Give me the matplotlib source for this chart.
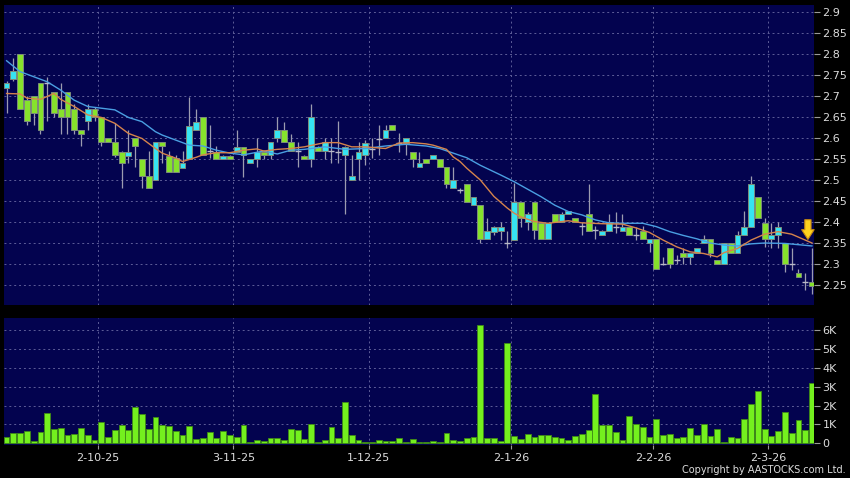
import numpy as np
import matplotlib
matplotlib.use("Agg")
import matplotlib.pyplot as plt

# daily candles (index 0 = first trading day shown)
opens = [2.72, 2.74, 2.80, 2.69, 2.70, 2.73, 2.73, 2.71, 2.67, 2.71,
         2.67, 2.62, 2.64, 2.67, 2.65, 2.60, 2.59, 2.567, 2.558, 2.60,
         2.55, 2.51, 2.50, 2.59, 2.557, 2.552, 2.529, 2.55, 2.62, 2.649,
         2.57, 2.567, 2.55, 2.557, 2.567, 2.579, 2.54, 2.55, 2.567, 2.56,
         2.599, 2.62, 2.59, 2.57, 2.557, 2.55, 2.579, 2.57, 2.57, 2.567,
         2.56, 2.50, 2.549, 2.56, 2.575, 2.597, 2.599, 2.631, 2.588, 2.589,
         2.567, 2.53, 2.549, 2.549, 2.549, 2.53, 2.48, 2.477, 2.49, 2.44,
         2.44, 2.359, 2.377, 2.379, 2.35, 2.357, 2.448, 2.399, 2.448, 2.398,
         2.359, 2.418, 2.40, 2.418, 2.409, 2.39, 2.418, 2.38, 2.369, 2.379,
         2.389, 2.379, 2.389, 2.37, 2.379, 2.349, 2.359, 2.30, 2.337, 2.31,
         2.327, 2.317, 2.327, 2.349, 2.359, 2.309, 2.299, 2.349, 2.327, 2.369,
         2.389, 2.459, 2.398, 2.359, 2.369, 2.349, 2.30, 2.278, 2.258, 2.258]
highs = [2.735, 2.79, 2.80, 2.70, 2.70, 2.73, 2.745, 2.71, 2.73, 2.71,
         2.68, 2.62, 2.68, 2.675, 2.65, 2.60, 2.635, 2.57, 2.62, 2.60,
         2.55, 2.57, 2.59, 2.59, 2.57, 2.56, 2.57, 2.698, 2.67, 2.649,
         2.63, 2.58, 2.56, 2.56, 2.62, 2.579, 2.55, 2.60, 2.57, 2.59,
         2.65, 2.637, 2.61, 2.59, 2.56, 2.68, 2.58, 2.60, 2.60, 2.64,
         2.58, 2.56, 2.59, 2.595, 2.60, 2.631, 2.631, 2.631, 2.611, 2.60,
         2.567, 2.567, 2.549, 2.56, 2.549, 2.53, 2.532, 2.48, 2.49, 2.46,
         2.44, 2.41, 2.39, 2.40, 2.379, 2.494, 2.448, 2.425, 2.448, 2.398,
         2.398, 2.418, 2.425, 2.427, 2.409, 2.40, 2.49, 2.39, 2.38, 2.42,
         2.424, 2.42, 2.389, 2.389, 2.39, 2.359, 2.359, 2.317, 2.337, 2.321,
         2.337, 2.327, 2.337, 2.369, 2.359, 2.309, 2.349, 2.349, 2.379, 2.427,
         2.51, 2.459, 2.41, 2.398, 2.40, 2.349, 2.337, 2.287, 2.278, 2.337]
lows = [2.66, 2.735, 2.67, 2.63, 2.63, 2.61, 2.64, 2.65, 2.61, 2.61,
        2.61, 2.58, 2.62, 2.64, 2.58, 2.59, 2.555, 2.48, 2.54, 2.53,
        2.48, 2.48, 2.50, 2.54, 2.52, 2.52, 2.529, 2.55, 2.62, 2.56,
        2.552, 2.55, 2.55, 2.55, 2.567, 2.508, 2.54, 2.53, 2.55, 2.55,
        2.59, 2.59, 2.57, 2.53, 2.55, 2.53, 2.57, 2.55, 2.54, 2.54,
        2.42, 2.50, 2.50, 2.535, 2.552, 2.56, 2.599, 2.62, 2.567, 2.56,
        2.532, 2.53, 2.54, 2.549, 2.53, 2.48, 2.48, 2.468, 2.448, 2.44,
        2.349, 2.359, 2.37, 2.357, 2.337, 2.357, 2.389, 2.38, 2.359, 2.359,
        2.359, 2.40, 2.40, 2.418, 2.40, 2.369, 2.379, 2.36, 2.369, 2.379,
        2.373, 2.379, 2.369, 2.357, 2.359, 2.329, 2.287, 2.298, 2.29, 2.299,
        2.299, 2.299, 2.327, 2.349, 2.317, 2.299, 2.299, 2.327, 2.327, 2.369,
        2.389, 2.409, 2.34, 2.337, 2.337, 2.28, 2.286, 2.268, 2.238, 2.229]
closes = [2.73, 2.76, 2.67, 2.64, 2.66, 2.62, 2.73, 2.66, 2.65, 2.65,
          2.62, 2.61, 2.67, 2.65, 2.59, 2.59, 2.56, 2.54, 2.567, 2.58,
          2.51, 2.48, 2.59, 2.58, 2.52, 2.52, 2.54, 2.629, 2.639, 2.56,
          2.57, 2.55, 2.557, 2.55, 2.579, 2.56, 2.549, 2.567, 2.56, 2.59,
          2.62, 2.59, 2.57, 2.57, 2.55, 2.649, 2.57, 2.59, 2.57, 2.567,
          2.579, 2.51, 2.567, 2.589, 2.575, 2.597, 2.62, 2.62, 2.588, 2.60,
          2.549, 2.54, 2.54, 2.56, 2.53, 2.49, 2.50, 2.477, 2.448, 2.459,
          2.359, 2.379, 2.389, 2.389, 2.35, 2.448, 2.409, 2.418, 2.38, 2.359,
          2.398, 2.40, 2.418, 2.427, 2.40, 2.39, 2.379, 2.38, 2.379, 2.399,
          2.389, 2.389, 2.369, 2.37, 2.359, 2.359, 2.287, 2.30, 2.299, 2.31,
          2.317, 2.327, 2.337, 2.359, 2.327, 2.299, 2.349, 2.327, 2.369, 2.389,
          2.49, 2.409, 2.359, 2.369, 2.389, 2.299, 2.30, 2.268, 2.258, 2.248]

# volume in thousands
volume = [0.35, 0.56, 0.56, 0.67, 0.14, 0.60, 1.62, 0.74, 0.79, 0.42,
          0.49, 0.83, 0.42, 0.18, 1.13, 0.32, 0.71, 0.95, 0.71, 1.94,
          1.57, 0.76, 1.39, 0.99, 0.92, 0.63, 0.44, 0.93, 0.23, 0.26,
          0.60, 0.26, 0.67, 0.44, 0.35, 0.97, 0.05, 0.18, 0.14, 0.28,
          0.28, 0.19, 0.76, 0.69, 0.21, 1.04, 0.05, 0.19, 0.88, 0.26,
          2.19, 0.44, 0.18, 0.09, 0.07, 0.18, 0.12, 0.12, 0.28, 0.05,
          0.23, 0.05, 0.05, 0.12, 0.05, 0.56, 0.18, 0.14, 0.26, 0.35,
          6.26, 0.26, 0.26, 0.12, 5.29, 0.39, 0.23, 0.49, 0.35, 0.42,
          0.42, 0.35, 0.30, 0.18, 0.39, 0.49, 0.71, 2.61, 0.97, 0.97,
          0.58, 0.18, 1.45, 1.00, 0.88, 0.35, 1.29, 0.44, 0.49, 0.30,
          0.35, 0.79, 0.44, 1.02, 0.41, 0.74, 0.09, 0.35, 0.30, 1.31,
          2.08, 2.79, 0.74, 0.39, 0.67, 1.64, 0.53, 1.23, 0.71, 3.17]

# moving averages at sample candles
ma_short_idx = [0, 2, 3, 5, 7, 8, 10, 12, 14, 16, 18, 20, 22, 23, 25, 26, 28, 29,
                31, 33, 35, 37, 38, 40, 42, 44, 47, 49, 51, 53, 56, 58, 60, 62, 63,
                65, 66, 67, 68, 70, 72, 74, 75, 76, 78, 80, 83, 85, 88, 91, 93, 95,
                97, 99, 101, 103, 104, 105, 106, 108, 110, 112, 114, 116, 118, 119]
ma_short = [2.706, 2.705, 2.695, 2.692, 2.706, 2.692, 2.675, 2.655, 2.649, 2.635,
            2.611, 2.599, 2.575, 2.564, 2.552, 2.544, 2.554, 2.56, 2.565, 2.565,
            2.571, 2.574, 2.569, 2.573, 2.575, 2.579, 2.589, 2.589, 2.579, 2.579,
            2.575, 2.588, 2.589, 2.586, 2.583, 2.573, 2.555, 2.544, 2.528, 2.50,
            2.461, 2.433, 2.421, 2.412, 2.401, 2.397, 2.403, 2.398, 2.396, 2.395,
            2.386, 2.375, 2.357, 2.341, 2.329, 2.325, 2.321, 2.317, 2.327, 2.337,
            2.357, 2.371, 2.377, 2.371, 2.357, 2.35]
ma_long_idx = [0, 2, 4, 6, 8, 10, 12, 14, 16, 18, 20, 22, 23, 25, 27, 29, 31, 33,
               35, 37, 38, 40, 42, 44, 47, 50, 53, 56, 59, 62, 64, 66, 68, 70, 73,
               75, 77, 79, 81, 83, 85, 87, 89, 91, 94, 96, 98, 100, 102, 104, 106,
               108, 110, 112, 115, 119]
ma_long = [2.784, 2.758, 2.746, 2.734, 2.714, 2.69, 2.675, 2.671, 2.667, 2.649,
           2.639, 2.615, 2.607, 2.595, 2.583, 2.581, 2.571, 2.564, 2.56, 2.566,
           2.569, 2.562, 2.571, 2.573, 2.579, 2.573, 2.575, 2.581, 2.585, 2.581,
           2.575, 2.564, 2.553, 2.535, 2.512, 2.496, 2.478, 2.46, 2.44, 2.425,
           2.417, 2.405, 2.398, 2.397, 2.397, 2.389, 2.377, 2.368, 2.36, 2.35,
           2.345, 2.343, 2.348, 2.35, 2.349, 2.343]

date_pos = [13.5, 33.5, 53.5, 74.5, 95.5, 112.5]
date_labels = ["2-10-25", "3-11-25", "1-12-25", "2-1-26", "2-2-26", "2-3-26"]
price_ticks = [2.25, 2.3, 2.35, 2.4, 2.45, 2.5, 2.55, 2.6, 2.65, 2.7, 2.75, 2.8, 2.85, 2.9]
price_labels = ["2.25", "2.3", "2.35", "2.4", "2.45", "2.5", "2.55", "2.6", "2.65",
                "2.7", "2.75", "2.8", "2.85", "2.9"]
vol_ticks = [0, 1, 2, 3, 4, 5, 6]
vol_labels = ["0", "1K", "2K", "3K", "4K", "5K", "6K"]

NAVY = "#03034f"
GRID = "#5d5d98"
TXT = "#dcdcdc"
UP = "#36e4f2"
DOWN = "#86e22c"

o = np.array(opens)
h = np.array(highs)
l = np.array(lows)
c = np.array(closes)
x = np.arange(len(o))

fig = plt.figure(figsize=(8.5, 4.78), dpi=100, facecolor="black")
ax = fig.add_axes([4 / 850, 173 / 478, 810 / 850, 300 / 478])
axv = fig.add_axes([4 / 850, 33 / 478, 810 / 850, 127 / 478])

xmin, xmax = -0.38, 119.3
for a in (ax, axv):
    a.set_facecolor(NAVY)
    for s in a.spines.values():
        s.set_visible(False)
    a.set_xlim(xmin, xmax)
    a.yaxis.tick_right()
    a.tick_params(axis="y", colors="#9a9a9a", labelcolor=TXT, labelsize=8,
                  length=4, width=0.8, pad=2)
    for p in date_pos:
        a.axvline(p, color=GRID, lw=0.7, ls=(0, (2, 3)), zorder=0)

# price panel
ax.set_ylim(2.2024, 2.9167)
ax.set_yticks(price_ticks)
ax.set_yticklabels(price_labels)
ax.set_xticks([])
for t in price_ticks:
    ax.axhline(t, color=GRID, lw=0.7, ls=(0, (2, 3)), zorder=0)

ax.vlines(x, l, h, color="#9c9cb0", lw=0.9, zorder=2)
body_lo = np.minimum(o, c)
body_h = np.abs(c - o)
cols = [UP if cc > oo else DOWN for oo, cc in zip(o, c)]
real = body_h > 0.0005
ax.bar(x[real], body_h[real], bottom=body_lo[real], width=0.86,
       color=np.array(cols)[real], edgecolor="#7d8c7a", linewidth=0.7, zorder=3)
doji = ~real
ax.hlines(c[doji], x[doji] - 0.45, x[doji] + 0.45, color="#b8b8c8", lw=1.0, zorder=3)

ax.plot(ma_long_idx, ma_long, color="#4a9fe2", lw=1.0, zorder=4)
ax.plot(ma_short_idx, ma_short, color="#d5834c", lw=1.0, zorder=4)

ax.annotate("", xy=(118.4, 2.352), xytext=(118.4, 2.412),
            arrowprops=dict(arrowstyle="simple,head_width=0.9,head_length=0.7,tail_width=0.45",
                            fc="#ffd21e", ec="#c98a10", lw=0.8), zorder=6)

# volume panel
axv.set_ylim(-0.09, 6.63)
axv.set_yticks(vol_ticks)
axv.set_yticklabels(vol_labels)
for t in vol_ticks[1:]:
    axv.axhline(t, color=GRID, lw=0.7, ls=(0, (2, 3)), zorder=0)
axv.bar(x, volume, width=0.86, color="#74f01e", edgecolor="#3f8a16", linewidth=0.6, zorder=3)
axv.set_xticks(date_pos)
axv.set_xticklabels(date_labels)
axv.tick_params(axis="x", colors="#9a9a9a", labelcolor=TXT, labelsize=8,
                length=3, width=0.8, pad=3)

fig.text(846 / 850, 8 / 478, "Copyright by AASTOCKS.com Ltd.", color=TXT,
         fontsize=7, ha="right", va="center")

fig.savefig("out.png", dpi=100, facecolor="black")
